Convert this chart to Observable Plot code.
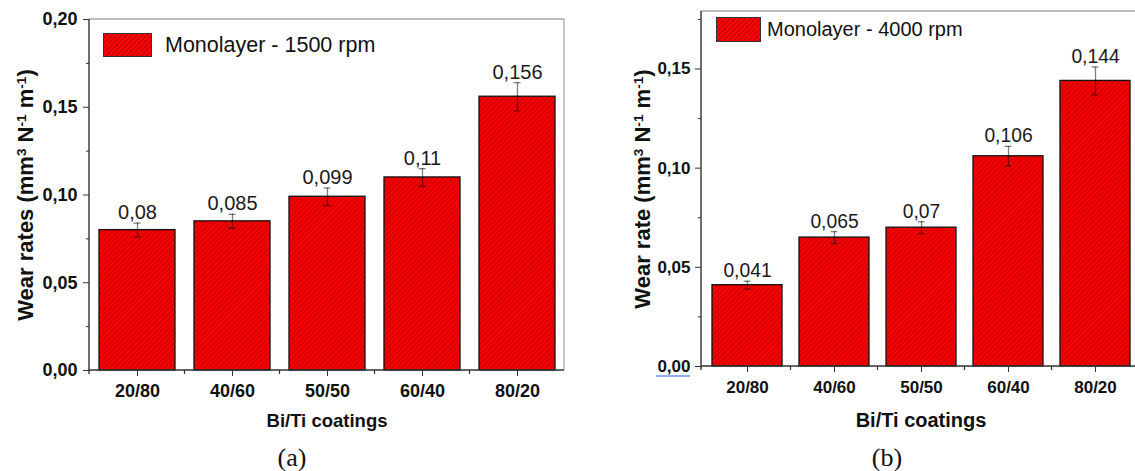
<!DOCTYPE html>
<html><head><meta charset="utf-8">
<script src="https://cdn.jsdelivr.net/npm/d3@7"></script>
<script src="https://cdn.jsdelivr.net/npm/@observablehq/plot@0.6"></script>
<style>
body{margin:0;background:#fff;}
#wrap{position:relative;width:1135px;height:471px;overflow:hidden;font-family:"Liberation Sans",Arial,sans-serif;}
.panel{position:absolute;top:0;}
.legend{position:absolute;display:flex;align-items:center;color:#111;white-space:nowrap;}
.legend .sw{box-sizing:border-box;border:1.3px solid #333;background:repeating-linear-gradient(135deg,#f00 0 2.6px,#a80000 2.6px 3.5px);}
.cap{position:absolute;font-family:"Liberation Serif","Times New Roman",serif;color:#111;line-height:1;transform:translate(-50%,-50%);}
.squig{position:absolute;background:#8fb1f2;height:1.5px;}
</style></head><body><div id="wrap"></div>
<script>
// ---- data ----
const categories = ["20/80", "40/60", "50/50", "60/40", "80/20"];
const wearA = [0.080, 0.085, 0.099, 0.110, 0.156];
const errA  = [0.004, 0.004, 0.005, 0.005, 0.008];
const wearB = [0.041, 0.065, 0.070, 0.106, 0.144];
const errB  = [0.002, 0.003, 0.003, 0.005, 0.007];
const yTicksA = [0, 0.05, 0.10, 0.15, 0.20];
const yMinorA = [0.025, 0.075, 0.125, 0.175];
const yTicksB = [0, 0.05, 0.10, 0.15];
const yMinorB = [0.025, 0.075, 0.125, 0.175];
const legendA = "Monolayer - 1500 rpm";
const legendB = "Monolayer - 4000 rpm";
const yTitleA = "Wear rates (mm³ N⁻¹ m⁻¹)";
const yTitleB = "Wear rate (mm³ N⁻¹ m⁻¹)";
const xTitle = "Bi/Ti coatings";

const fmtVal = v => String(v).replace(".", ",");
const fmtTick = v => v.toFixed(2).replace(".", ",");

function axesLines(index, scales, values, dims) {
  const {width, height, marginLeft, marginRight, marginTop, marginBottom} = dims;
  const x0 = marginLeft, x1 = width - marginRight, yb = height - marginBottom, yt = marginTop;
  const g = d3.create("svg:g");
  g.append("path").attr("d", `M${x0},${yt}H${x1}V${yb}`).attr("fill", "none").attr("stroke", "#a8a8a8").attr("stroke-width", 1.3);
  g.append("path").attr("d", `M${x0},${yt}V${yb + 4}M${x0},${yb}H${x1}`).attr("fill", "none").attr("stroke", "#333").attr("stroke-width", 1.4);
  const x = scales.x;
  const step = x.step(), bw = x.bandwidth();
  categories.slice(0, -1).forEach(c => {
    const bx = x(c) + (step + bw) / 2;
    g.append("line").attr("x1", bx).attr("x2", bx).attr("y1", yb).attr("y2", yb + 4).attr("stroke", "#333").attr("stroke-width", 1.2);
  });
  return g.node();
}

function supify(svg) {
  const sup = {"³": "3", "⁻": "-", "¹": "1"};
  d3.select(svg).selectAll("text").each(function () {
    const t = this.textContent;
    if (!/[³⁻¹]/.test(t)) return;
    const el = d3.select(this);
    el.text("");
    let buf = "", inSup = false;
    const flush = () => {
      if (!buf) return;
      const ts = el.append("tspan").text(buf);
      if (inSup) ts.attr("baseline-shift", "super").attr("font-size", "0.62em");
      buf = "";
    };
    for (const ch of t) {
      const s = ch in sup;
      if (s !== inSup) { flush(); inSup = s; }
      buf += s ? sup[ch] : ch;
    }
    flush();
  });
}

function makePanel(cfg) {
  const data = categories.map((c, i) => ({cat: c, v: cfg.values[i], e: cfg.errors[i]}));
  const frameW = cfg.width - cfg.marginLeft - cfg.marginRight;
  const bw = frameW / 5 * 0.8;
  const capInset = (bw - 7) / 2;
  const plot = Plot.plot({
    width: cfg.width, height: cfg.height,
    marginLeft: cfg.marginLeft, marginRight: cfg.marginRight,
    marginTop: cfg.marginTop, marginBottom: cfg.marginBottom,
    style: {fontFamily: '"Liberation Sans", Arial, sans-serif', color: "#111", background: "transparent", overflow: "visible"},
    x: {type: "band", domain: categories, paddingInner: 0.2, paddingOuter: 0.1},
    y: {domain: cfg.yDomain},
    marks: [
      Plot.barY(data, {x: "cat", y: "v", fill: `url(#${cfg.id})`, stroke: "#111", strokeWidth: 1.3}),
      Plot.ruleX(data, {x: "cat", y1: d => d.v - d.e, y2: d => d.v + d.e, stroke: "#000", strokeOpacity: 0.5, strokeWidth: 1.3}),
      Plot.tickY(data, {x: "cat", y: d => d.v + d.e, insetLeft: capInset, insetRight: capInset, stroke: "#000", strokeOpacity: 0.5, strokeWidth: 1.3}),
      Plot.tickY(data, {x: "cat", y: d => d.v - d.e, insetLeft: capInset, insetRight: capInset, stroke: "#000", strokeOpacity: 0.5, strokeWidth: 1.3}),
      Plot.text(data, {x: "cat", y: d => d.v + d.e, text: d => fmtVal(d.v), lineAnchor: "bottom", dy: -4, fontSize: cfg.valSize, fill: "#1a1a1a"}),
      axesLines,
      Plot.axisY(cfg.yTicks, {tickSize: 6, tickPadding: cfg.yPad, tickFormat: fmtTick, fontSize: cfg.tickSize, fontWeight: "bold", label: null, stroke: "#333"}),
      Plot.axisY(cfg.yMinor, {tickSize: 3, tickFormat: () => "", label: null, stroke: "#333"}),
      Plot.axisX({tickSize: 6, tickPadding: cfg.xPad, fontSize: cfg.tickSize, fontWeight: "bold", label: null, stroke: "#333"}),
      Plot.text([cfg.yTitle], {text: d => d, frameAnchor: "left", textAnchor: "middle", rotate: -90, dx: cfg.yTitleDx, lineAnchor: "middle", fontSize: 22, fontWeight: "bold", fill: "#111"}),
      Plot.text([xTitle], {text: d => d, frameAnchor: "bottom", lineAnchor: "bottom", dy: cfg.xTitleDy, fontSize: cfg.xTitleSize, fontWeight: "bold", fill: "#111"})
    ]
  });
  d3.select(plot).insert("defs", ":first-child").html(
    `<pattern id="${cfg.id}" patternUnits="userSpaceOnUse" width="3.5" height="3.5" patternTransform="rotate(45)">` +
    `<rect width="3.5" height="3.5" fill="#ff0000"/>` +
    `<line x1="1.75" y1="0" x2="1.75" y2="3.5" stroke="#ad0000" stroke-width="0.9"/></pattern>`);
  supify(plot);
  plot.classList.add("panel");
  plot.style.left = cfg.left + "px";
  return plot;
}

const wrap = document.getElementById("wrap");
wrap.appendChild(makePanel({
  id: "hatchA", left: 0, width: 580, height: 471,
  marginLeft: 89, marginRight: 16, marginTop: 19, marginBottom: 101,
  values: wearA, errors: errA, yDomain: [0, 0.20], yTicks: yTicksA, yMinor: yMinorA,
  valSize: 20, tickSize: 18, yPad: 6, xPad: 8, yTitle: yTitleA, yTitleDx: -64, xTitleDy: 56, xTitleSize: 18.5
}));
wrap.appendChild(makePanel({
  id: "hatchB", left: 580, width: 570, height: 471,
  marginLeft: 121, marginRight: 10, marginTop: 11, marginBottom: 105,
  values: wearB, errors: errB, yDomain: [0, 0.179], yTicks: yTicksB, yMinor: yMinorB,
  valSize: 19.3, tickSize: 17, yPad: 5, xPad: 8.5, yTitle: yTitleB, yTitleDx: -59, xTitleDy: 60, xTitleSize: 20
}));

function addLegend(text, sx, sy, sw, sh, tx, fs) {
  const d = document.createElement("div");
  d.className = "legend";
  d.style.left = sx + "px"; d.style.top = sy + "px"; d.style.height = sh + "px";
  const s = document.createElement("span");
  s.className = "sw"; s.style.width = sw + "px"; s.style.height = sh + "px";
  const t = document.createElement("span");
  t.textContent = text; t.style.fontSize = fs + "px"; t.style.marginLeft = (tx - sx - sw) + "px";
  d.appendChild(s); d.appendChild(t);
  wrap.appendChild(d);
}
addLegend(legendA, 103, 33, 49, 24, 165, 21.5);
addLegend(legendB, 716, 17, 45, 25, 767, 20);

function addCap(text, cx, cy) {
  const d = document.createElement("div");
  d.className = "cap"; d.textContent = text;
  d.style.left = cx + "px"; d.style.top = cy + "px"; d.style.fontSize = "26px";
  wrap.appendChild(d);
}
addCap("(a)", 292, 458);
addCap("(b)", 887, 458);

const sq = document.createElement("div");
sq.className = "squig"; sq.style.left = "656px"; sq.style.top = "375px"; sq.style.width = "34px";
wrap.appendChild(sq);
</script></body></html>
